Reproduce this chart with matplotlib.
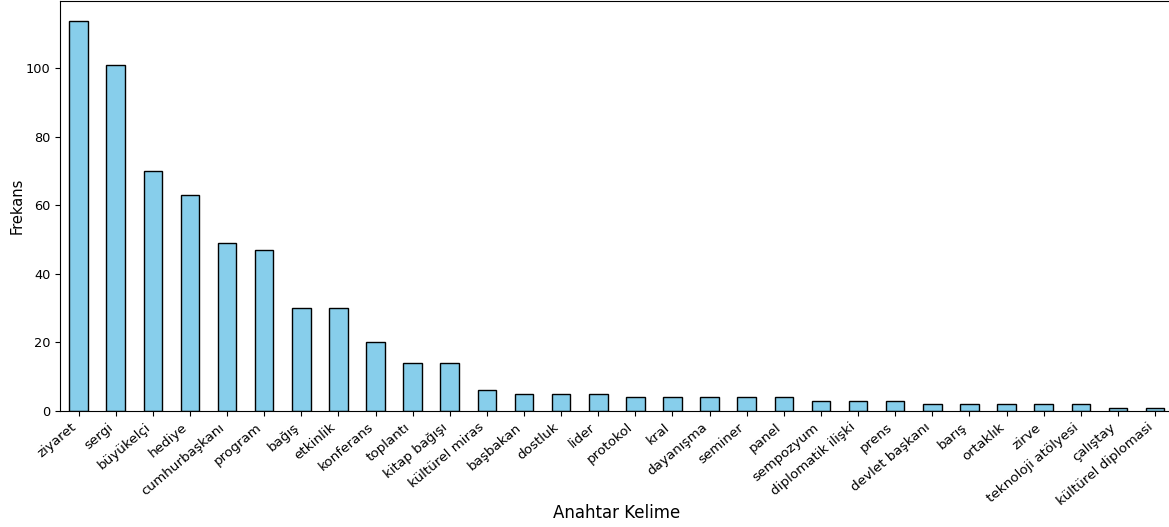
import matplotlib
matplotlib.use('Agg')
import matplotlib.pyplot as plt
import numpy as np

keywords = ['ziyaret', 'sergi', 'büyükelçi', 'hediye', 'cumhurbaşkanı', 'program',
            'bağış', 'etkinlik', 'konferans', 'toplantı', 'kitap bağışı',
            'kültürel miras', 'başbakan', 'dostluk', 'lider', 'protokol', 'kral',
            'dayanışma', 'seminer', 'panel', 'sempozyum', 'diplomatik ilişki',
            'prens', 'devlet başkanı', 'barış', 'ortaklık', 'zirve',
            'teknoloji atölyesi', 'çalıştay', 'kültürel diplomasi']
counts = [114, 101, 70, 63, 49, 47, 30, 30, 20, 14, 14, 6, 5, 5, 5, 4, 4, 4, 4, 4,
          3, 3, 3, 2, 2, 2, 2, 2, 1, 1]

fig = plt.figure(figsize=(11.69, 5.27), dpi=100)
ax = fig.add_axes([60 / 1169, 1 - 411 / 527, 1113.6 / 1169, 410 / 527])

x = np.arange(len(keywords))
ax.bar(x, counts, width=0.5, color='skyblue', edgecolor='black')
ax.set_xlim(-0.5, len(keywords) - 0.5)
ax.set_ylim(0, max(counts) * 1.05)
ax.set_xticks(x)
ax.set_xticklabels(keywords, rotation=40, ha='right', fontsize=9.7)
ax.tick_params(axis='y', labelsize=9.3)
ax.set_xlabel('Anahtar Kelime', fontsize=12)
ax.xaxis.set_label_coords(0.5, -0.228)
ax.set_ylabel('Frekans', fontsize=10.5, labelpad=1)

fig.savefig('out.png', dpi=100)
